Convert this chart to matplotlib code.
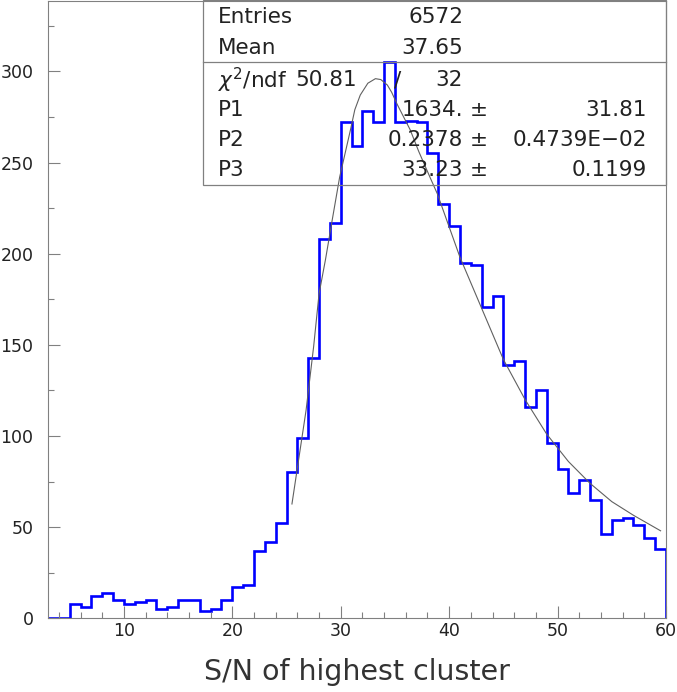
import numpy as np
import matplotlib.pyplot as plt
from matplotlib.patches import Rectangle
from matplotlib.lines import Line2D
from matplotlib.ticker import MultipleLocator

# histogram: 1-unit bins from 3 to 60
bin_edges = np.arange(3, 61)
counts = [0, 0, 8, 6, 12, 14, 10, 8, 9, 10, 5, 6, 10, 10, 4, 5, 10,
          17, 18, 37, 42, 52, 80, 99, 143, 208, 217, 272, 259, 278, 272,
          305, 272, 273, 272, 255, 227, 215, 195, 194, 171, 177, 139, 141,
          116, 125, 96, 82, 69, 76, 65, 46, 54, 55, 51, 44, 38]

# fitted curve, points
fit_x = [25.5, 26.8, 27.5, 28.0, 28.6, 29.2, 29.9, 30.9, 31.3, 31.8, 32.5,
         33.2, 33.7, 34.3, 34.7, 35.2, 36.4, 37.2, 38.3, 38.9, 41.0, 43.0,
         45.0, 47.0, 49.0, 51.0, 53.0, 55.0, 57.0, 59.5]
fit_y = [62.7, 114, 149, 178, 197, 218, 242, 268, 279, 287, 293.5, 296,
         295.5, 292.5, 288.5, 282, 268, 256, 241, 233, 198, 170, 142, 120,
         101, 86, 74, 64, 56.5, 48]

# statistics box
stat_names = ['Entries', 'Mean']
stat_values = ['6572', '37.65']
fit_names = ['P1', 'P2', 'P3']
fit_values = ['1634.', '0.2378', '33.23']
fit_errors = ['31.81', '0.4739E\u221202', '0.1199']
chi2_value, ndf_value = '50.81', '32'

W, H = 677, 692
fig = plt.figure(figsize=(W / 100, H / 100), dpi=100)
ax = fig.add_axes([48 / W, 1 - 618.3 / H, (666 - 48) / W, 617.3 / H])

ax.stairs(counts, bin_edges, baseline=0, color='#0000ff', lw=1.9)
ax.plot(fit_x, fit_y, color='#606060', lw=0.8)

ax.set_xlim(3, 60)
ax.set_ylim(0, 338.6)
ax.xaxis.set_major_locator(MultipleLocator(10))
ax.xaxis.set_minor_locator(MultipleLocator(2))
ax.yaxis.set_major_locator(MultipleLocator(50))
ax.yaxis.set_minor_locator(MultipleLocator(25))
ax.tick_params(which='both', direction='in', color='#808080', width=0.8,
               labelsize=12.5, labelcolor='#222222')
ax.tick_params(which='major', length=8.6)
ax.tick_params(which='minor', length=4.3)
ax.tick_params(axis='y', pad=10.5)
ax.tick_params(axis='x', pad=3)
for s in ax.spines.values():
    s.set_color('#808080')
    s.set_linewidth(0.8)

fig.text(357 / W, 1 - 672 / H, 'S/N of highest cluster', ha='center',
         va='center', fontsize=20.5, color='#333333')


def fx(x):
    return x / W


def fy(y):
    return 1 - y / H


# box and divider
fig.add_artist(Rectangle((fx(203), fy(185)), (666 - 203) / W, 185 / H,
                         transform=fig.transFigure, fill=False,
                         edgecolor='#808080', lw=0.9))
fig.add_artist(Line2D([fx(203), fx(666)], [fy(62), fy(62)],
                      transform=fig.transFigure, color='#808080', lw=0.9))

txt = dict(fontsize=15.5, color='#222222', va='center')
rows_y = [16.7, 48.3, 80, 110, 140, 170]
for i, (n, v) in enumerate(zip(stat_names, stat_values)):
    fig.text(fx(218), fy(rows_y[i]), n, ha='left', **txt)
    fig.text(fx(463), fy(rows_y[i]), v, ha='right', **txt)

fig.text(fx(218), fy(rows_y[2]), r'$\chi^2$/ndf', ha='left', **txt)
fig.text(fx(295), fy(rows_y[2]), chi2_value, ha='left', **txt)
fig.text(fx(398), fy(rows_y[2]), '/', ha='center', **txt)
fig.text(fx(463), fy(rows_y[2]), ndf_value, ha='right', **txt)

for i, (n, v, e) in enumerate(zip(fit_names, fit_values, fit_errors)):
    y = fy(rows_y[3 + i])
    fig.text(fx(218), y, n, ha='left', **txt)
    fig.text(fx(463), y, v, ha='right', **txt)
    fig.text(fx(479), y, '\u00b1', ha='center', **txt)
    fig.text(fx(647), y, e, ha='right', **txt)

fig.savefig('out.png', dpi=100)
